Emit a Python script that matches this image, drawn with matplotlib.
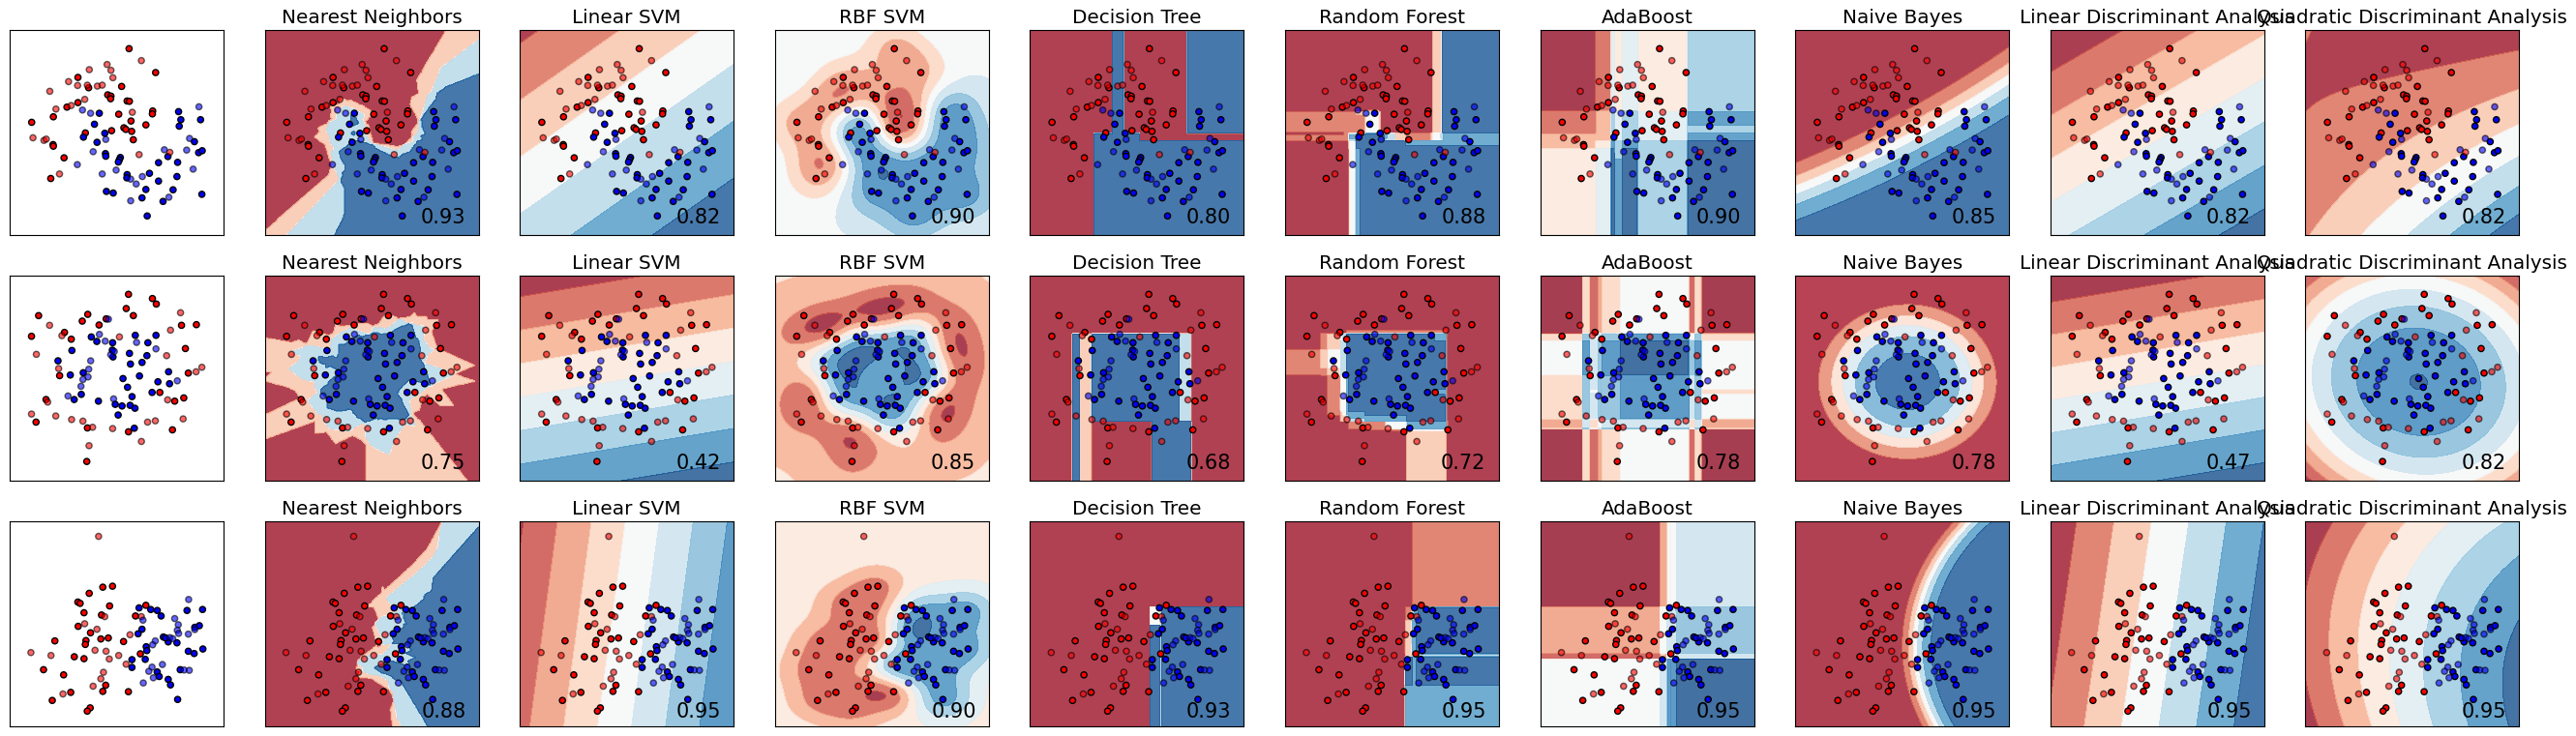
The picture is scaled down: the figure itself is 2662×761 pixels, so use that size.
import numpy as np
import matplotlib
matplotlib.use("Agg")
import matplotlib.pyplot as plt
from matplotlib.colors import ListedColormap

# ---------------------------------------------------------------- data
names = ["Nearest Neighbors", "Linear SVM", "RBF SVM", "Decision Tree",
         "Random Forest", "AdaBoost", "Naive Bayes",
         "Linear Discriminant Analysis", "Quadratic Discriminant Analysis"]

scores_moons = [0.93, 0.82, 0.90, 0.80, 0.88, 0.90, 0.85, 0.82, 0.82]
scores_circles = [0.75, 0.42, 0.85, 0.68, 0.72, 0.78, 0.78, 0.47, 0.82]
scores_linear = [0.88, 0.95, 0.90, 0.93, 0.95, 0.95, 0.95, 0.95, 0.95]

# point readings (picture units; converted to data units with each dataset's scale)
moons_train_red = [(397,151),(479,225),(239,240),(374,268),(272,272),(331,294),(341,298),(340,306),
                   (391,313),(398,314),(239,318),(205,332),(163,362),(96,379),(365,354),(470,344),
                   (469,353),(403,375),(449,387),(381,396),(387,401),(343,405),(405,407),(262,412),
                   (410,433),(162,448),(163,453),(196,489),(155,553)]
moons_test_red = [(435,188),(329,200),(341,218),(274,216),(347,241),(210,253),(238,265),(268,264),
                  (299,267),(314,264),(152,283),(260,308),(218,327),(171,338),(407,348),(100,427),
                  (134,435),(141,431),(428,479),(523,472),(182,539)]
moons_train_blue = [(305,351),(550,346),(557,371),(618,371),(552,391),(290,385),(322,413),(256,425),
                    (298,441),(599,439),(612,473),(623,467),(324,476),(325,484),(517,485),(370,488),
                    (367,495),(364,502),(488,504),(547,503),(460,537),(391,541),(390,551),(545,547),
                    (488,561),(449,587),(533,588),(327,593),(348,598),(622,602),(437,613),(502,624),
                    (453,669)]
moons_test_blue = [(613,331),(253,341),(278,351),(325,432),(584,429),(506,464),(575,465),(286,470),
                   (237,510),(595,524),(357,527),(314,539),(438,547),(402,555),(419,570),(520,611),
                   (402,622)]
moons_scale = (360, 410, 136, 118)

circles_train_red = [(118,213),(270,209),(253,230),(305,242),(327,223),(396,147),(470,160),(482,177),
                     (389,191),(411,213),(560,243),(606,241),(96,277),(198,265),(219,286),(572,315),
                     (581,391),(183,399),(141,473),(110,543),(269,561),(396,573),(532,567),(493,451),
                     (539,478),(567,468),(267,665)]
circles_test_red = [(152,243),(190,275),(557,204),(526,258),(368,279),(111,333),(514,337),(180,377),
                    (605,387),(623,373),(146,481),(96,518),(171,524),(220,535),(255,540),(285,559),
                    (347,563),(455,543),(479,539),(565,533),(517,474),(436,603),(274,616)]
circles_train_blue = [(281,279),(298,293),(347,297),(346,320),(348,341),(417,274),(481,274),(456,297),
                      (221,321),(178,353),(399,330),(453,337),(402,363),(438,358),(256,390),(216,397),
                      (520,387),(379,408),(430,400),(487,418),(523,424),(393,435),(469,451),(250,457),
                      (228,473),(303,478),(407,464),(355,488),(376,493),(401,491),(416,500),(364,521),
                      (414,562)]
circles_test_blue = [(334,224),(306,271),(324,292),(421,296),(481,316),(341,334),(352,324),(279,353),
                     (273,379),(271,403),(255,411),(249,432),(209,462),(350,471),(547,415)]
circles_scale = (360, 405, 135, 119)

linear_train_red = [(274,337),(316,318),(346,315),(239,364),(246,368),(337,376),(258,397),(312,404),
                    (240,439),(278,459),(310,478),(333,475),(264,483),(262,495),(168,484),(228,533),
                    (258,539),(380,486),(417,407),(449,374),(432,524),(133,573),(195,589),(325,621),
                    (316,640),(217,643),(160,668),(395,641),(277,691),(268,701)]
linear_test_red = [(303,161),(322,409),(260,431),(298,448),(400,465),(435,409),(94,520),(156,529),
                   (292,513),(326,516),(365,529),(336,540),(388,556),(318,581),(310,601),(286,624),
                   (193,648)]
linear_train_blue = [(428,382),(464,387),(484,390),(496,407),(437,448),(425,462),(503,472),(518,487),
                     (545,490),(450,502),(452,514),(447,541),(406,542),(406,566),(484,580),(490,594),
                     (518,603),(525,620),(555,573),(547,665),(576,390),(624,387),(600,442),(614,437),
                     (580,516),(598,523),(625,509),(510,475)]
linear_test_blue = [(581,356),(538,415),(549,434),(546,451),(550,461),(580,463),(600,449),(440,420),
                    (478,484),(470,496),(523,474),(532,477),(500,557),(468,565),(458,578),(472,598),
                    (441,614),(567,574),(583,575)]
linear_scale = (360, 430, 131, 94)


def to_data(pts, scale):
    cx, cy, ux, uy = scale
    a = np.array(pts, float)
    return np.c_[(a[:, 0] - cx) / ux, (cy - a[:, 1]) / uy]


def make_set(tr_r, tr_b, te_r, te_b, scale):
    Xtr = np.vstack([to_data(tr_r, scale), to_data(tr_b, scale)])
    ytr = np.r_[np.zeros(len(tr_r)), np.ones(len(tr_b))]
    Xte = np.vstack([to_data(te_r, scale), to_data(te_b, scale)])
    yte = np.r_[np.zeros(len(te_r)), np.ones(len(te_b))]
    return Xtr, ytr, Xte, yte


datasets = [
    (make_set(moons_train_red, moons_train_blue, moons_test_red, moons_test_blue, moons_scale), scores_moons),
    (make_set(circles_train_red, circles_train_blue, circles_test_red, circles_test_blue, circles_scale), scores_circles),
    (make_set(linear_train_red, linear_train_blue, linear_test_red, linear_test_blue, linear_scale), scores_linear),
]


# ---------------------------------------------------------------- models
def knn(X, y, G, k=3):
    D = ((G[:, None, :] - X[None, :, :]) ** 2).sum(-1)
    nn = np.argpartition(D, k, axis=1)[:, :k]
    return y[nn].mean(1)


def lin_kernel(A, B):
    return A @ B.T


def rbf_kernel(A, B, gamma=2.0):
    d = (A ** 2).sum(1)[:, None] + (B ** 2).sum(1)[None, :] - 2 * A @ B.T
    return np.exp(-gamma * d)


def svm(X, y, G, C, kernel, iters=20000, tol=1e-3):
    n = len(y)
    ys = np.where(y == 1, 1.0, -1.0)
    K = kernel(X, X)
    Q = ys[:, None] * ys[None, :] * K
    a = np.zeros(n)
    Gr = -np.ones(n)
    m = M = 0.0
    for _ in range(iters):
        up = ((a < C) & (ys > 0)) | ((a > 0) & (ys < 0))
        low = ((a < C) & (ys < 0)) | ((a > 0) & (ys > 0))
        v = -ys * Gr
        vu = np.where(up, v, -np.inf)
        vl = np.where(low, v, np.inf)
        i = int(np.argmax(vu)); j = int(np.argmin(vl))
        m, M = vu[i], vl[j]
        if m - M < tol:
            break
        eta = max(K[i, i] + K[j, j] - 2 * K[i, j], 1e-12)
        d = (m - M) / eta
        d = min(d, (C - a[i]) if ys[i] > 0 else a[i], a[j] if ys[j] > 0 else (C - a[j]))
        di = ys[i] * d; dj = -ys[j] * d
        a[i] += di; a[j] += dj
        Gr += Q[:, i] * di + Q[:, j] * dj
    b = (m + M) / 2
    return kernel(G, X) @ (a * ys) + b


def fit_tree(X, y, w, max_depth, order=None, depth=0):
    tot = w.sum()
    p = (w * y).sum() / tot
    node = {"p": p}
    if depth >= max_depth or p <= 1e-12 or p >= 1 - 1e-12 or len(y) < 2:
        return node
    feats = [0, 1] if order is None else order(depth)
    best = None
    for f in feats:
        o = np.argsort(X[:, f], kind="stable")
        xs, yy_, ws = X[o, f], y[o], w[o]
        cw = np.cumsum(ws)[:-1]
        c1 = np.cumsum(ws * yy_)[:-1]
        valid = xs[1:] > xs[:-1]
        wr = tot - cw
        r1 = (ws * yy_).sum() - c1
        with np.errstate(divide="ignore", invalid="ignore"):
            pl = np.where(cw > 0, c1 / cw, 0)
            pr = np.where(wr > 0, r1 / wr, 0)
        g = cw * pl * (1 - pl) + wr * pr * (1 - pr)
        g = np.where(valid, g, np.inf)
        k = int(np.argmin(g))
        if np.isfinite(g[k]) and (best is None or g[k] < best[0] - 1e-12):
            best = (g[k], f, 0.5 * (xs[k] + xs[k + 1]))
        if order is not None and best is not None:
            break
    if best is None:
        return node
    _, f, t = best
    msk = X[:, f] <= t
    node.update(f=f, t=t,
                l=fit_tree(X[msk], y[msk], w[msk], max_depth, order, depth + 1),
                r=fit_tree(X[~msk], y[~msk], w[~msk], max_depth, order, depth + 1))
    return node


def tree_predict(node, G):
    out = np.empty(len(G))

    def rec(nd, idx):
        if "f" not in nd:
            out[idx] = nd["p"]
            return
        msk = G[idx, nd["f"]] <= nd["t"]
        rec(nd["l"], idx[msk])
        rec(nd["r"], idx[~msk])

    rec(node, np.arange(len(G)))
    return out


def dtree(X, y, G):
    return tree_predict(fit_tree(X, y, np.ones(len(y)), 5), G)


def forest(X, y, G):
    out = np.zeros(len(G))
    idx = np.arange(len(y))
    for k in range(10):
        keep = ((idx * (2 * k + 3) + k) % 5) != 0
        order = (lambda d, k=k: [(d + k) % 2, (d + k + 1) % 2])
        tr = fit_tree(X[keep], y[keep], np.ones(keep.sum()), 5, order)
        out += tree_predict(tr, G)
    return out / 10


def adaboost(X, y, G, n_est=50):
    eps = np.finfo(float).eps
    w = np.ones(len(y)) / len(y)
    dec = np.zeros(len(G))
    used = 0
    for it in range(n_est):
        st = fit_tree(X, y, w, 1)
        p = np.clip(tree_predict(st, X), eps, 1 - eps)
        pg = np.clip(tree_predict(st, G), eps, 1 - eps)
        dec += np.log(pg) - np.log(1 - pg)
        used += 1
        err = w[(p > 0.5) != (y == 1)].sum()
        if err <= 0:
            break
        lt = np.where(y == 1, np.log(p) - np.log(1 - p), np.log(1 - p) - np.log(p))
        w = w * np.exp(-0.5 * lt)
        w /= w.sum()
    return dec / used


def gnb(X, y, G):
    eps = 1e-9 * X.var(axis=0).max()
    jll = []
    for c in (0, 1):
        Xc = X[y == c]
        mu = Xc.mean(0); var = Xc.var(0) + eps
        jll.append(np.log(len(Xc) / len(X)) - 0.5 * np.sum(np.log(2 * np.pi * var))
                   - 0.5 * np.sum((G - mu) ** 2 / var, axis=1))
    return 1 / (1 + np.exp(-(jll[1] - jll[0])))


def lda(X, y, G):
    mus = [X[y == c].mean(0) for c in (0, 1)]
    Xc = np.vstack([X[y == c] - mus[c] for c in (0, 1)])
    S = Xc.T @ Xc / (len(X) - 2)
    Si = np.linalg.inv(S)
    w = Si @ (mus[1] - mus[0])
    b = -0.5 * (mus[1] @ Si @ mus[1] - mus[0] @ Si @ mus[0]) + np.log(np.mean(y == 1) / np.mean(y == 0))
    return G @ w + b


def qda(X, y, G):
    d = []
    for c in (0, 1):
        Xc = X[y == c]
        mu = Xc.mean(0); S = np.cov(Xc.T)
        Si = np.linalg.inv(S)
        D = G - mu
        m2 = np.einsum("ij,jk,ik->i", D, Si, D)
        d.append(-0.5 * (m2 + np.log(np.linalg.det(S))) + np.log(np.mean(y == c)))
    return d[1] - d[0]


models = [
    knn,
    lambda X, y, G: svm(X, y, G, 0.025, lin_kernel),
    lambda X, y, G: svm(X, y, G, 1.0, rbf_kernel),
    dtree, forest, adaboost, gnb, lda, qda,
]

# ---------------------------------------------------------------- figure
W, H = 2662, 761
fig = plt.figure(figsize=(W / 100, H / 100), dpi=100)
cm = plt.cm.RdBu
cm_bright = ListedColormap(["#FF0000", "#0000FF"])
hstep = 0.02
col_left0, col_pitch, ax_w = 10, 263.6, 221
row_top = [31, 285, 539]
ax_h = 212

for r, ((Xtr, ytr, Xte, yte), scores) in enumerate(datasets):
    Xall = np.vstack([Xtr, Xte])
    x_min, x_max = Xall[:, 0].min() - .5, Xall[:, 0].max() + .5
    y_min, y_max = Xall[:, 1].min() - .5, Xall[:, 1].max() + .5
    xx, yy = np.meshgrid(np.arange(x_min, x_max, hstep), np.arange(y_min, y_max, hstep))
    G = np.c_[xx.ravel(), yy.ravel()]
    for c in range(10):
        left = col_left0 + c * col_pitch
        ax = fig.add_axes([left / W, 1 - (row_top[r] + ax_h) / H, ax_w / W, ax_h / H])
        if c > 0:
            Z = models[c - 1](Xtr, ytr, G).reshape(xx.shape)
            ax.contourf(xx, yy, Z, cmap=cm, alpha=.8)
        ax.scatter(Xtr[:, 0], Xtr[:, 1], c=ytr, cmap=cm_bright, vmin=0, vmax=1,
                   s=20, edgecolors="k", linewidths=1.0)
        ax.scatter(Xte[:, 0], Xte[:, 1], c=yte, cmap=cm_bright, vmin=0, vmax=1,
                   s=20, edgecolors="k", linewidths=1.0, alpha=0.6)
        ax.set_xlim(xx.min(), xx.max())
        ax.set_ylim(yy.min(), yy.max())
        ax.set_xticks(())
        ax.set_yticks(())
        if c > 0:
            ax.set_title(names[c - 1], fontsize=14.4, pad=5)
            ax.text(xx.max() - .3, yy.min() + .3, "%.2f" % scores[c - 1],
                    size=15, horizontalalignment="right")

fig.savefig("out.png", dpi=100)
